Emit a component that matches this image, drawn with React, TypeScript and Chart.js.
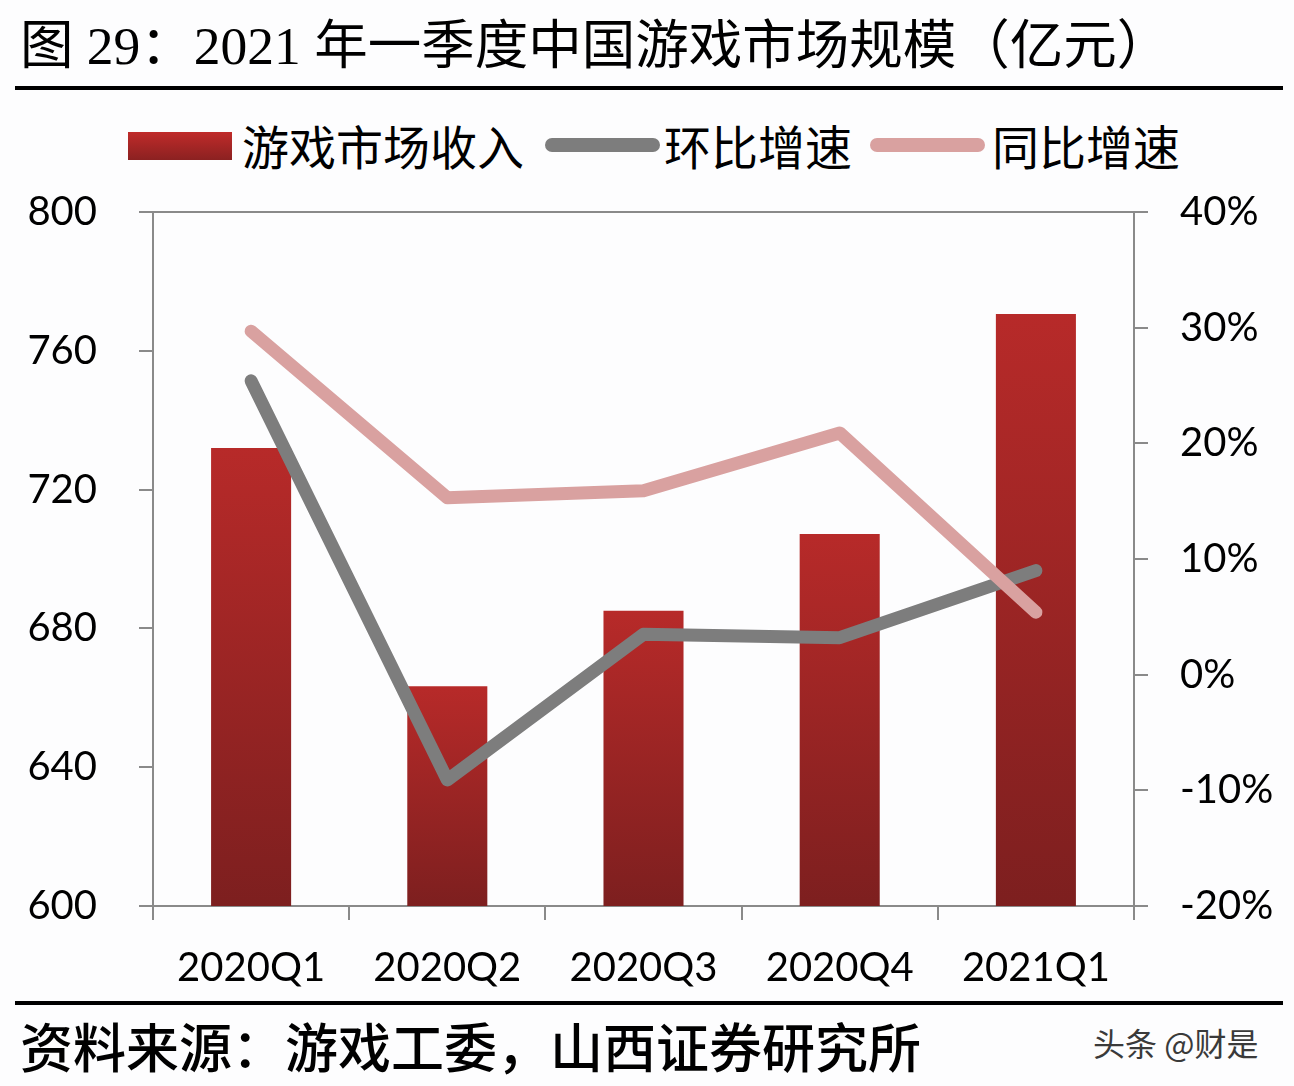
import React, { useEffect, useRef } from "react";
import { Chart, registerables } from "chart.js";

Chart.register(...registerables);

// Quarterly game-market revenue (亿元) with quarter-on-quarter and year-on-year growth (%)
const quarters = ["2020Q1", "2020Q2", "2020Q3", "2020Q4", "2021Q1"];
const revenue = [732.0, 663.3, 685.1, 707.2, 770.6];
const qoqGrowth = [25.4, -9.1, 3.5, 3.2, 9.0];
const yoyGrowth = [29.7, 15.3, 15.9, 20.9, 5.4];

const leftTicks = { min: 600, max: 800, step: 40 };
const rightTicks = { min: -20, max: 40, step: 10 };

const seriesNames = ["游戏市场收入", "环比增速", "同比增速"];
const titleText = "图 29：2021 年一季度中国游戏市场规模（亿元）";
const sourceText = "资料来源：游戏工委，山西证券研究所";
const markText = "头条 @财是";

const AXIS = "#8a8a8a";
const GRAY_LINE = "#7d7d7d";
const PINK_LINE = "#d9a1a0";
const TICK_FONT = { family: "Lato, 'Open Sans', sans-serif", size: 40 };

export default function App() {
  const canvasRef = useRef<HTMLCanvasElement | null>(null);

  useEffect(() => {
    const canvas = canvasRef.current;
    if (!canvas) return;

    const barFill = (ctx: any) => {
      const chart = ctx.chart;
      if (!chart.chartArea || ctx.type !== "data") return "#9e2424";
      const y = chart.scales.y;
      const top = y.getPixelForValue(ctx.raw);
      const bottom = y.getPixelForValue(leftTicks.min);
      const g = chart.ctx.createLinearGradient(0, top, 0, bottom);
      g.addColorStop(0, "#b72a29");
      g.addColorStop(1, "#7d1f1f");
      return g;
    };

    // fixed axis widths; the plot keeps its own top/bottom from layout padding
    const fixWidth = (w: number) => (s: any) => {
      s.width = w;
      s.paddingTop = 0;
      s.paddingBottom = 0;
    };

    const chart = new Chart(canvas, {
      type: "bar",
      data: {
        labels: quarters,
        datasets: [
          {
            type: "line",
            label: seriesNames[2],
            data: yoyGrowth,
            yAxisID: "y1",
            borderColor: PINK_LINE,
            borderWidth: 13,
            borderCapStyle: "round",
            borderJoinStyle: "round",
            pointRadius: 0,
            tension: 0,
            order: 0,
          },
          {
            type: "line",
            label: seriesNames[1],
            data: qoqGrowth,
            yAxisID: "y1",
            borderColor: GRAY_LINE,
            borderWidth: 13,
            borderCapStyle: "round",
            borderJoinStyle: "round",
            pointRadius: 0,
            tension: 0,
            order: 1,
          },
          {
            type: "bar",
            label: seriesNames[0],
            data: revenue,
            yAxisID: "y",
            backgroundColor: barFill,
            categoryPercentage: 1,
            barPercentage: 0.408,
            order: 2,
          },
        ],
      },
      options: {
        responsive: false,
        maintainAspectRatio: false,
        animation: false,
        layout: { padding: { top: 22, left: 0, right: 0, bottom: 0 } },
        plugins: { legend: { display: false }, tooltip: { enabled: false } },
        scales: {
          x: {
            type: "category",
            offset: true,
            grid: {
              offset: true,
              drawOnChartArea: false,
              drawTicks: true,
              tickLength: 14,
              tickColor: AXIS,
              lineWidth: 2,
            },
            border: { color: AXIS, width: 2 },
            ticks: { font: TICK_FONT, color: "#000", padding: 24, maxRotation: 0 },
            afterFit: (s: any) => {
              s.height = 94;
              s.paddingLeft = 0;
              s.paddingRight = 0;
            },
          },
          y: {
            position: "left",
            min: leftTicks.min,
            max: leftTicks.max,
            ticks: { stepSize: leftTicks.step, font: TICK_FONT, color: "#000", padding: 42 },
            grid: {
              color: (c: any) => (c.tick && c.tick.value === leftTicks.max ? AXIS : "rgba(0,0,0,0)"),
              tickColor: AXIS,
              tickLength: 14,
              lineWidth: 2,
            },
            border: { color: AXIS, width: 2 },
            afterFit: fixWidth(153),
          },
          y1: {
            position: "right",
            min: rightTicks.min,
            max: rightTicks.max,
            ticks: {
              stepSize: rightTicks.step,
              font: TICK_FONT,
              color: "#000",
              padding: 32,
              callback: (v: any) => `${v}%`,
            },
            grid: { drawOnChartArea: false, tickColor: AXIS, tickLength: 14, lineWidth: 2 },
            border: { color: AXIS, width: 2 },
            afterFit: fixWidth(160),
          },
        },
      },
    });

    return () => chart.destroy();
  }, []);

  const cjk = "'Noto Sans CJK SC', sans-serif";

  const legendText = (left: number, text: string) => (
    <span style={{ position: "absolute", left, top: 0, lineHeight: "58px" }}>{text}</span>
  );

  const lineKey = (left: number, color: string) => (
    <span
      style={{
        position: "absolute",
        left,
        top: 22,
        width: 115,
        height: 14,
        borderRadius: 7,
        background: color,
      }}
    />
  );

  return (
    <div
      style={{
        position: "absolute",
        left: 0,
        top: 0,
        width: 1294,
        height: 1086,
        background: "#fdfdfe",
        overflow: "hidden",
      }}
    >
      <div
        style={{
          position: "absolute",
          left: 20,
          top: 12,
          fontFamily: `'Liberation Serif', ${cjk}`,
          fontSize: 53.5,
          lineHeight: "68px",
          color: "#000",
          whiteSpace: "nowrap",
        }}
      >
        {titleText}
      </div>
      <div style={{ position: "absolute", left: 15, top: 86, width: 1268, height: 4, background: "#000" }} />

      <div
        style={{
          position: "absolute",
          left: 0,
          top: 116,
          width: 1294,
          height: 58,
          fontFamily: cjk,
          fontSize: 47,
          color: "#000",
          whiteSpace: "nowrap",
        }}
      >
        <span
          style={{
            position: "absolute",
            left: 128,
            top: 16,
            width: 104,
            height: 28,
            background: "linear-gradient(to bottom, #c02b2a, #8b2121)",
          }}
        />
        {legendText(242, seriesNames[0])}
        {lineKey(545, GRAY_LINE)}
        {legendText(664, seriesNames[1])}
        {lineKey(870, PINK_LINE)}
        {legendText(992, seriesNames[2])}
      </div>

      <canvas
        ref={canvasRef}
        width={1294}
        height={810}
        style={{ position: "absolute", left: 0, top: 190, width: 1294, height: 810 }}
      />

      <div style={{ position: "absolute", left: 15, top: 1001, width: 1268, height: 4, background: "#000" }} />
      <div
        style={{
          position: "absolute",
          left: 20,
          top: 1012,
          fontFamily: cjk,
          fontSize: 53,
          fontWeight: 500,
          lineHeight: "66px",
          color: "#000",
          whiteSpace: "nowrap",
        }}
      >
        {sourceText}
      </div>
      <div
        style={{
          position: "absolute",
          left: 1093,
          top: 1021,
          fontFamily: cjk,
          fontSize: 32,
          lineHeight: "42px",
          color: "#3a3a3a",
          whiteSpace: "nowrap",
        }}
      >
        {markText}
      </div>
    </div>
  );
}
